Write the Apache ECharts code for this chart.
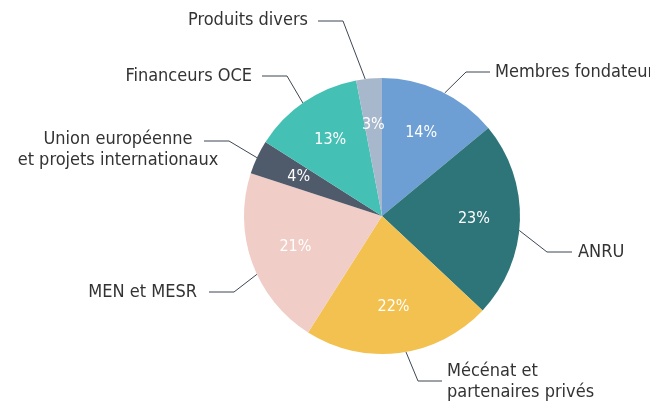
<!DOCTYPE html>
<html>
<head>
<meta charset="utf-8">
<script src="https://cdn.jsdelivr.net/npm/echarts@6/dist/echarts.min.js"></script>
<style>
  html, body { margin: 0; padding: 0; background: #fff; }
  #main { width: 650px; height: 405px; }
</style>
</head>
<body>
<div id="main"></div>
<script>
// clockwise from 12 o'clock
const categories = [
  'Membres fondateurs',
  'ANRU',
  'Mécénat et\npartenaires privés',
  'MEN et MESR',
  'Union européenne\net projets internationaux',
  'Financeurs OCE',
  'Produits divers'
]
const shares = [14, 23, 22, 21, 4, 13, 3]

const palette = ['#6d9fd5', '#2e7579', '#f2c150', '#f0cdc6', '#4f5b6b', '#45c0b4', '#a8b8cc']
const font = "'DejaVu Sans Condensed', Roboto, sans-serif"

const center = [382, 216]
const radius = 138

// label placement: leader start angle (deg from top, clockwise), elbow x, line end x, line y, text x, text y, align
const spots = [
  [27, 466, 490, 72, 495, 72, 'left'],
  [96, 547, 572, 252, 578, 252, 'left'],
  [170, 418, 442, 381, 447, 382, 'left'],
  [245, 234, 209, 292, 197, 292, 'right'],
  [295, 229, 204, 141, 118, 150, 'center'],
  [325, 287, 262, 76, 252, 76, 'right'],
  [353, 343, 318, 21, 308, 20, 'right']
]

let chart = echarts.init(document.getElementById('main'))

let pieData = categories.map((name, i) => ({
  name: name,
  value: shares[i],
  itemStyle: { color: palette[i] }
}))

let option = {
  animation: false,
  series: [
    {
      type: 'pie',
      center: center,
      radius: [0, radius],
      startAngle: 90,
      clockwise: true,
      avoidLabelOverlap: false,
      silent: true,
      data: pieData,
      label: {
        show: true,
        position: 'outside',
        formatter: '{b}',
        color: '#333',
        fontFamily: font,
        fontSize: 18,
        lineHeight: 21
      },
      labelLine: {
        show: true,
        length: 20,
        length2: 20,
        lineStyle: { color: '#3d4754', width: 1 }
      },
      labelLayout: function (params) {
        let s = spots[params.dataIndex]
        let a = s[0] * Math.PI / 180
        let start = [center[0] + radius * Math.sin(a), center[1] - radius * Math.cos(a)]
        return {
          x: s[4],
          y: s[5],
          align: s[6],
          verticalAlign: 'middle',
          labelLinePoints: [start, [s[1], s[3]], [s[2], s[3]]]
        }
      }
    },
    {
      type: 'pie',
      center: center,
      radius: [40, radius],
      startAngle: 90,
      clockwise: true,
      silent: true,
      data: shares.map((v, i) => ({ name: categories[i], value: v })),
      itemStyle: { color: 'rgba(0,0,0,0)' },
      label: {
        show: true,
        position: 'inside',
        formatter: '{c}%',
        color: '#fff',
        fontFamily: font,
        fontSize: 16
      },
      labelLine: { show: false }
    }
  ]
}

chart.setOption(option)
</script>
</body>
</html>
